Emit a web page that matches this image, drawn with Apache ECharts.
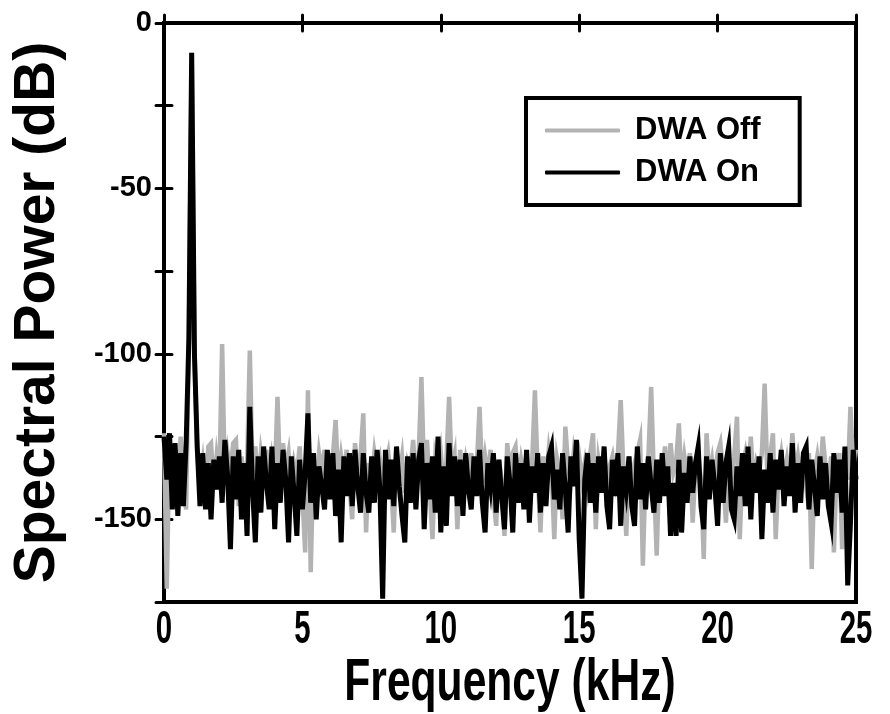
<!DOCTYPE html>
<html>
<head>
<meta charset="utf-8">
<title>Spectral Power</title>
<script src="https://cdn.jsdelivr.net/npm/echarts@6/dist/echarts.min.js"></script>
<style>
  html, body { margin: 0; padding: 0; background: #fff; }
  #chart { width: 890px; height: 714px; }
</style>
</head>
<body>
<div id="chart"></div>
<script>
// FFT bin spacing of both spectra, in kHz (bins 0 .. 25 kHz)
const binKHz = 0.1;

// Tick values of the axes
const xTicks = [0, 5, 10, 15, 20, 25];
const yTicks = [0, -50, -100, -150];
const xTitle = 'Frequency (kHz)';

// Spectrum with DWA disabled (dB), one value per bin
const dwaOff = [
  -124, -171, -127, -140, -129, -145, -125, -142, -147, -95,
  -9, -100, -130, -140, -133, -143, -128, -127, -141, -131,
  -138, -97, -139, -130, -136, -127, -126, -146, -131, -138,
  -135, -99, -137, -128, -141, -130, -136, -129, -142, -132,
  -138, -113, -139, -127, -135, -130, -141, -133, -137, -128,
  -143, -160, -111, -166, -132, -140, -130, -136, -129, -142,
  -134, -131, -120, -139, -131, -137, -129, -140, -150, -127,
  -135, -131, -118, -154, -133, -139, -130, -136, -132, -140,
  -134, -130, -138, -154, -129, -137, -131, -142, -133, -136,
  -126, -139, -131, -107, -138, -126, -141, -156, -132, -137,
  -130, -140, -133, -113, -136, -131, -153, -129, -138, -132,
  -137, -130, -141, -134, -116, -139, -131, -137, -129, -143,
  -152, -132, -138, -155, -127, -136, -130, -128, -139, -132,
  -137, -130, -141, -133, -111, -136, -154, -131, -138, -129,
  -135, -156, -132, -137, -150, -122, -134, -139, -130, -136,
  -131, -138, -133, -140, -130, -124, -153, -132, -137, -129,
  -140, -134, -131, -138, -130, -114, -136, -155, -131, -139,
  -133, -130, -126, -164, -135, -131, -110, -138, -161, -132,
  -137, -128, -140, -127, -136, -133, -121, -139, -131, -137,
  -130, -151, -134, -131, -138, -162, -124, -137, -132, -139,
  -130, -127, -136, -151, -133, -138, -131, -119, -156, -134,
  -130, -137, -125, -140, -133, -136, -130, -109, -138, -131,
  -124, -156, -135, -130, -137, -132, -139, -124, -136, -131,
  -138, -133, -140, -130, -165, -136, -131, -138, -125, -134,
  -140, -131, -160, -135, -130, -159, -132, -138, -116, -135,
  -129
];

// Spectrum with DWA enabled (dB), one value per bin
const dwaOn = [
  -125, -138, -124, -147, -127, -149, -130, -146, -127, -95,
  -9, -100, -128, -146, -130, -147, -133, -150, -132, -141,
  -131, -145, -126, -137, -159, -131, -144, -129, -150, -133,
  -155, -116, -141, -157, -131, -148, -128, -139, -147, -128,
  -153, -133, -145, -129, -138, -157, -131, -142, -155, -132,
  -147, -136, -118, -145, -130, -150, -134, -140, -147, -129,
  -144, -130, -149, -135, -157, -131, -143, -130, -146, -129,
  -140, -148, -130, -142, -148, -131, -145, -129, -141, -174,
  -129, -144, -132, -146, -128, -140, -149, -157, -131, -145,
  -130, -147, -132, -127, -153, -133, -144, -131, -148, -125,
  -154, -134, -152, -127, -143, -131, -146, -132, -149, -130,
  -141, -147, -131, -143, -129, -145, -154, -133, -140, -130,
  -148, -132, -143, -153, -131, -139, -154, -130, -145, -133,
  -147, -129, -151, -134, -142, -130, -148, -133, -146, -131,
  -128, -144, -135, -147, -130, -141, -154, -131, -140, -126,
  -156, -174, -138, -130, -145, -133, -148, -131, -142, -128,
  -146, -153, -132, -143, -130, -152, -134, -141, -131, -146,
  -152, -128, -144, -133, -147, -131, -140, -148, -132, -145,
  -130, -143, -134, -155, -139, -155, -132, -154, -136, -145,
  -131, -142, -133, -128, -146, -153, -131, -144, -132, -140,
  -152, -130, -145, -133, -128, -147, -150, -134, -143, -130,
  -146, -128, -150, -133, -142, -131, -156, -135, -145, -130,
  -148, -132, -141, -129, -146, -134, -143, -127, -148, -133,
  -145, -130, -128, -147, -132, -140, -149, -131, -144, -133,
  -146, -151, -130, -142, -132, -148, -128, -170, -151, -129,
  -138
];

// Pair each value with the frequency of its bin
const toPoints = vals => vals.map((v, i) => [+(i * binKHz).toFixed(1), v]);

const sans = "'Liberation Sans', Arial, Helvetica, sans-serif";

const tickStyle = { show: true, inside: true, length: 8, lineStyle: { color: '#000', width: 3, cap: 'round' } };

const chart = echarts.init(document.getElementById('chart'), null, { renderer: 'canvas' });

chart.setOption({
  animation: false,
  backgroundColor: '#fff',
  grid: {
    left: 164, top: 23, right: 34, bottom: 112,
    outerBoundsMode: 'none', containLabel: false,
    show: true, borderColor: '#000', borderWidth: 4, backgroundColor: 'transparent'
  },
  legend: {
    orient: 'vertical',
    left: 526, top: 98,
    padding: [17, 39, 17, 19],
    itemGap: 11,
    itemWidth: 75, itemHeight: 4,
    icon: 'roundRect',
    borderColor: '#000', borderWidth: 4,
    backgroundColor: '#fff',
    textStyle: { fontFamily: sans, fontWeight: 'bold', fontSize: 31, color: '#000', padding: [0, 0, 0, 10] },
    data: ['DWA Off', 'DWA On']
  },
  xAxis: [
    {
      type: 'value', position: 'bottom',
      min: xTicks[0], max: xTicks[xTicks.length - 1], interval: xTicks[1] - xTicks[0],
      axisLine: { show: true, lineStyle: { color: '#000', width: 4 } },
      axisTick: tickStyle,
      // the condensed tick labels are drawn below as scaled text
      axisLabel: { show: false },
      splitLine: { show: false }
    },
    {
      type: 'value', position: 'top',
      min: xTicks[0], max: xTicks[xTicks.length - 1], interval: xTicks[1] - xTicks[0],
      axisLine: { show: true, lineStyle: { color: '#000', width: 4 } },
      axisTick: tickStyle,
      axisLabel: { show: false },
      splitLine: { show: false }
    }
  ],
  yAxis: [
    {
      type: 'value', position: 'left',
      min: -175, max: 0, interval: 25,
      name: 'Spectral Power (dB)', nameLocation: 'middle', nameGap: 97,
      nameTextStyle: { fontFamily: sans, fontWeight: 'bold', fontSize: 57, color: '#000' },
      axisLine: { show: true, lineStyle: { color: '#000', width: 4 } },
      axisTick: tickStyle,
      axisLabel: {
        fontFamily: sans, fontWeight: 'bold', fontSize: 29, color: '#000', margin: 12,
        formatter: v => (yTicks.indexOf(v) >= 0 ? String(v) : '')
      },
      splitLine: { show: false }
    },
    {
      type: 'value', position: 'right',
      min: -175, max: 0, interval: 25,
      axisLine: { show: true, lineStyle: { color: '#000', width: 4 } },
      axisTick: tickStyle,
      axisLabel: { show: false },
      splitLine: { show: false }
    }
  ],
  series: [
    {
      name: 'DWA Off', type: 'line',
      data: toPoints(dwaOff),
      showSymbol: false, symbol: 'none',
      itemStyle: { color: '#b3b3b3' },
      lineStyle: { color: '#b3b3b3', width: 4.5, join: 'miter' },
      z: 2
    },
    {
      name: 'DWA On', type: 'line',
      data: toPoints(dwaOn),
      showSymbol: false, symbol: 'none',
      itemStyle: { color: '#000' },
      lineStyle: { color: '#000', width: 5, join: 'miter' },
      z: 3
    }
  ]
});

// Condensed bold x tick labels and x title, placed through the x axis scale
const axisY = chart.convertToPixel({ yAxisIndex: 0 }, -175);
const labelEls = xTicks.map(t => ({
  type: 'text',
  x: chart.convertToPixel({ xAxisIndex: 0 }, t),
  y: axisY + 28,
  scaleX: 0.64,
  silent: true,
  style: {
    text: String(t), fill: '#000',
    font: "bold 46px " + sans,
    align: 'center', verticalAlign: 'middle'
  }
}));
const midX = (chart.convertToPixel({ xAxisIndex: 0 }, xTicks[0]) +
              chart.convertToPixel({ xAxisIndex: 0 }, xTicks[xTicks.length - 1])) / 2;
labelEls.push({
  type: 'text',
  x: midX, y: axisY + 81,
  scaleX: 0.71,
  silent: true,
  style: {
    text: xTitle, fill: '#000',
    font: "bold 60px " + sans,
    align: 'center', verticalAlign: 'middle'
  }
});
chart.setOption({ graphic: labelEls });
</script>
</body>
</html>
